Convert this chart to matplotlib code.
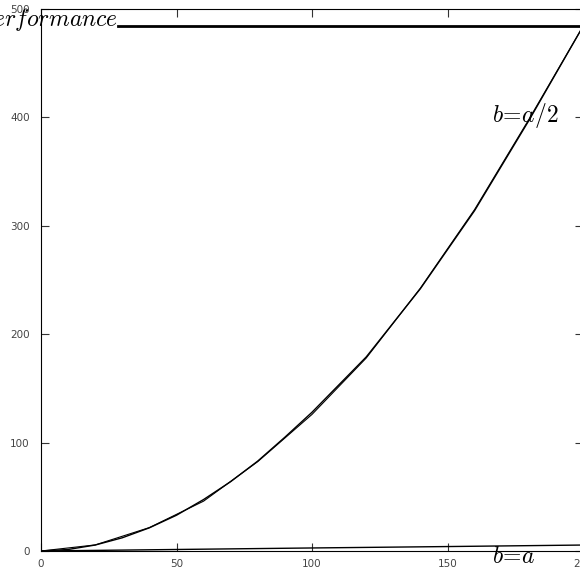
import matplotlib
matplotlib.use('Agg')
import matplotlib.pyplot as plt

plt.rcParams['mathtext.fontset'] = 'cm'

# size a against cost b
a_fine = [0, 10, 20, 30, 40, 50, 60, 70, 80, 90, 100, 120, 140, 160, 180, 200]
half_fine = [0, 1.4, 5.5, 12.2, 21.4, 33, 47.5, 64, 83, 105, 128, 179, 242, 314, 397, 484]
a_coarse = [0, 20, 40, 60, 80, 100, 120, 140, 160, 180, 200]
half_coarse = [0, 5.6, 21.6, 46, 82.5, 126, 178, 242.5, 315, 398, 484]
full_x = [0, 50, 100, 150, 200]
full_y = [0, 1.4, 2.8, 4.1, 5.5]

perf_x = [28.4, 200]
perf_y = [484, 484]

xticks = [0, 50, 100, 150, 200]
yticks = [0, 100, 200, 300, 400, 500]

fig = plt.figure(figsize=(5.8, 5.76), dpi=100)
ax = fig.add_axes([41/580, 25/576, 542/580, 542/576])

ax.plot(a_fine, half_fine, color='black', lw=1.0)
ax.plot(a_coarse, half_coarse, color='black', lw=0.8)
ax.plot(full_x, full_y, color='black', lw=1.0)
ax.plot(perf_x, perf_y, color='black', lw=2.0, clip_on=False)

ax.text(28.4, 484, r'$\mathit{Performance}$', ha='right', va='baseline', fontsize=17, clip_on=False)
ax.text(166.4, 396, r'$b\!=\!a/2$', ha='left', va='baseline', fontsize=17)
ax.text(166.4, -11, r'$b\!=\!a$', ha='left', va='baseline', fontsize=17, clip_on=False)

ax.set_xlim(0, 200)
ax.set_ylim(0, 500)
ax.set_xticks(xticks)
ax.set_yticks(yticks)
ax.tick_params(direction='in', length=6, width=0.8, top=True, right=True,
               labelsize=7.5, labelcolor='#444444', colors='#333333')
ax.tick_params(axis='y', pad=8)
ax.tick_params(axis='x', pad=6)
for s in ax.spines.values():
    s.set_linewidth(0.8)

fig.savefig('out.png', dpi=100)
